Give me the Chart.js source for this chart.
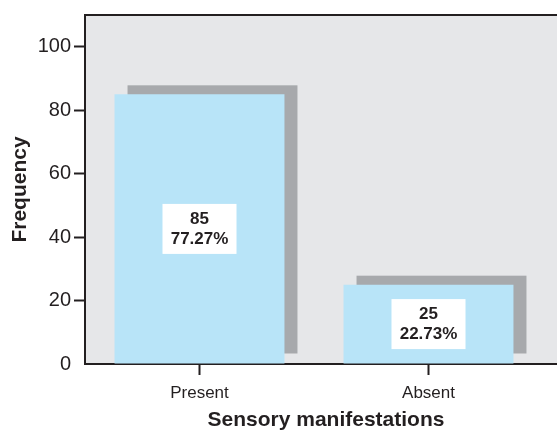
<!DOCTYPE html>
<html>
<head>
<meta charset="utf-8">
<script src="https://cdn.jsdelivr.net/npm/chart.js@4/dist/chart.umd.min.js"></script>
<style>
html,body{margin:0;padding:0;background:#fff;overflow:hidden;}
#wrap{width:557px;height:433px;position:relative;}
</style>
</head>
<body>
<div id="wrap"><canvas id="c" width="557" height="433"></canvas></div>
<script>
const categories = ['Present', 'Absent'];
const counts = [85, 25];
const percents = ['77.27%', '22.73%'];
const yTicks = [0, 20, 40, 60, 80, 100];
const xTitle = 'Sensory manifestations';
const yTitle = 'Frequency';

const ink = '#231f20';
const FONT = '"Liberation Sans", Arial, Helvetica, sans-serif';

const decor = {
  id: 'decor',
  beforeDraw(chart) {
    const {ctx, chartArea: a} = chart;
    ctx.save();
    ctx.fillStyle = '#e6e7e9';
    ctx.fillRect(a.left, a.top, chart.width - a.left, a.bottom - a.top);
    ctx.strokeStyle = ink;
    ctx.lineWidth = 2;
    ctx.beginPath();
    ctx.moveTo(a.left - 1, a.top);
    ctx.lineTo(chart.width, a.top);
    ctx.stroke();
    ctx.beginPath();
    ctx.moveTo(a.right, a.bottom);
    ctx.lineTo(chart.width, a.bottom);
    ctx.stroke();
    ctx.restore();
  },
  beforeDatasetsDraw(chart) {
    const {ctx} = chart;
    const meta = chart.getDatasetMeta(0);
    ctx.save();
    ctx.fillStyle = '#a7a9ac';
    meta.data.forEach(bar => {
      const p = bar.getProps(['x', 'y', 'base', 'width'], true);
      ctx.fillRect(p.x - p.width / 2 + 13, p.y - 9, p.width, p.base - p.y - 1);
    });
    ctx.restore();
  },
  afterDatasetsDraw(chart) {
    const {ctx} = chart;
    const meta = chart.getDatasetMeta(0);
    ctx.save();
    meta.data.forEach((bar, i) => {
      const p = bar.getProps(['x', 'y', 'base'], true);
      const cy = (p.y + p.base) / 2;
      ctx.fillStyle = '#ffffff';
      ctx.fillRect(p.x - 37, cy - 25, 74, 50);
      ctx.fillStyle = ink;
      ctx.font = 'bold 17px ' + FONT;
      ctx.textAlign = 'center';
      ctx.textBaseline = 'middle';
      ctx.fillText(String(counts[i]), p.x, cy - 10);
      ctx.fillText(percents[i], p.x, cy + 10);
    });
    ctx.restore();
  },
  afterDraw(chart) {
    const {ctx, chartArea: a} = chart;
    ctx.save();
    ctx.fillStyle = ink;
    ctx.font = 'bold 21px ' + FONT;
    ctx.textAlign = 'center';
    ctx.textBaseline = 'middle';
    ctx.fillText(xTitle, (a.left + chart.width + 10) / 2, 420);
    ctx.restore();
  }
};

new Chart(document.getElementById('c'), {
  type: 'bar',
  data: {
    labels: categories,
    datasets: [{
      data: counts,
      backgroundColor: '#b8e4f8',
      borderWidth: 0,
      categoryPercentage: 1,
      barPercentage: 0.742
    }]
  },
  options: {
    responsive: false,
    animation: false,
    events: [],
    layout: {padding: {left: 0, right: 14, top: 13, bottom: 0}},
    plugins: {legend: {display: false}, tooltip: {enabled: false}},
    scales: {
      x: {
        grid: {offset: false, drawOnChartArea: false, drawTicks: true, tickLength: 11, tickWidth: 2, tickColor: ink},
        border: {display: true, color: ink, width: 2},
        ticks: {color: ink, font: {size: 17, family: FONT}, padding: 8, maxRotation: 0},
        title: {display: false},
        afterFit(s) { s.height = 69; }
      },
      y: {
        min: 0, max: 110,
        afterBuildTicks(s) { s.ticks = yTicks.map(v => ({value: v})); },
        grid: {drawOnChartArea: false, drawTicks: true, tickLength: 11, tickWidth: 2,
          tickColor: (c) => (c.tick && c.tick.value === 0) ? 'rgba(0,0,0,0)' : ink},
        border: {display: true, color: ink, width: 2},
        ticks: {color: ink, font: {size: 20, family: FONT}, padding: 3},
        title: {display: true, text: yTitle, color: ink,
          font: {size: 21, weight: 'bold', family: FONT}, padding: {top: 8, bottom: 0}},
        afterFit(s) { s.width = 85; }
      }
    }
  },
  plugins: [decor]
});
</script>
</body>
</html>
